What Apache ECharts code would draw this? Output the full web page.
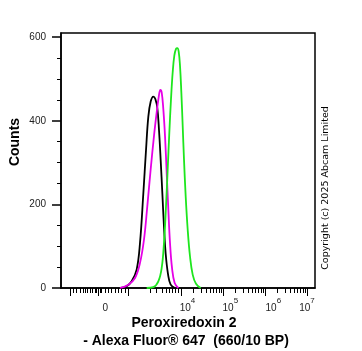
<!DOCTYPE html>
<html lang="en">
<head>
  <meta charset="UTF-8">
  <title>Peroxiredoxin 2 flow histogram</title>
  <script src="https://cdn.jsdelivr.net/npm/echarts@6/dist/echarts.min.js"></script>
  <style>
    html, body { margin: 0; padding: 0; background: #fff; }
    #chart { width: 362px; height: 351px; }
  </style>
</head>
<body>
  <div id="chart"></div>
  <script>
    // x is in display position: 10^k sits at k (biexponential axis, linear near 0)
    var blackX = [2.548, 2.706, 2.825, 2.944, 3.024, 3.103, 3.167, 3.222, 3.278, 3.341, 3.389, 3.437, 3.476, 3.516, 3.556, 3.595, 3.635, 3.690, 3.754, 3.857];
    var blackY = [0, 4, 16, 44, 108, 226, 330, 410, 446, 458, 452, 430, 378, 306, 226, 146, 82, 34, 8, 0];

    var magentaX = [2.548, 2.746, 2.905, 3.024, 3.119, 3.198, 3.278, 3.357, 3.421, 3.468, 3.508, 3.540, 3.579, 3.619, 3.659, 3.698, 3.738, 3.786, 3.849, 3.937];
    var magentaY = [0, 8, 24, 60, 116, 196, 284, 364, 420, 456, 474, 468, 428, 364, 276, 188, 108, 48, 12, 0];

    var greenX = [3.183, 3.341, 3.460, 3.540, 3.595, 3.643, 3.683, 3.722, 3.762, 3.802, 3.841, 3.881, 3.913, 3.944, 3.976, 4.008, 4.040, 4.071, 4.111, 4.159, 4.214, 4.278, 4.357, 4.468];
    var greenY = [0, 2, 16, 48, 108, 196, 284, 372, 452, 516, 556, 572, 574, 566, 532, 468, 388, 308, 220, 140, 76, 32, 10, 0];

    // axis ticks and labels
    var xMajorTicks = [1.357, 2.036, 2.75, 4, 5, 6, 7];
    var xLowMinorTicks = [1.436, 1.517, 1.595, 1.674, 1.731, 1.779, 1.833, 1.888, 1.952, 1.988, 2.071, 2.107,
      2.190, 2.269, 2.350, 2.429, 2.507, 2.588, 2.667,
      3.262, 3.417, 3.548, 3.643, 3.726, 3.798, 3.864, 3.924];
    var xLabelPos = [2.198, 4.155, 5.174, 6.198, 7.0];
    var xLabelText = ['{b|0}', '{b|10}{s|4}', '{b|10}{s|5}', '{b|10}{s|6}', '{b|10}{s|7}'];
    var yMajorTicks = [0, 200, 400, 600];
    var yMinorTicks = [50, 100, 150, 250, 300, 350, 450, 500, 550];

    var xMinorTicks = xLowMinorTicks.slice();
    for (var dec = 4; dec < 7; dec++) {
      for (var k = 2; k <= 9; k++) {
        xMinorTicks.push(dec + Math.log10(k));
      }
    }

    function pairs(xs, ys) {
      var out = [];
      for (var i = 0; i < xs.length; i++) out.push([xs[i], ys[i]]);
      return out;
    }

    var xMin = 1.143, xMax = 7.19;
    var yMin = 0, yMax = 610;

    var chart = echarts.init(document.getElementById('chart'));
    var option = {
      animation: false,
      grid: {
        left: 61, right: 47, top: 33, bottom: 63,
        show: true,
        borderColor: '#000',
        borderWidth: 1.5
      },
      xAxis: [{
        type: 'value', min: xMin, max: xMax,
        axisLine: { show: true, lineStyle: { color: '#000', width: 1.5 } },
        axisTick: { show: true, customValues: xMajorTicks, length: 8, lineStyle: { color: '#000', width: 1 } },
        axisLabel: {
          show: true,
          customValues: xLabelPos,
          margin: 9,
          color: '#222',
          fontFamily: 'Liberation Sans',
          formatter: function (v) {
            for (var i = 0; i < xLabelPos.length; i++) {
              if (Math.abs(xLabelPos[i] - v) < 1e-6) return xLabelText[i];
            }
            return '';
          },
          rich: {
            b: { fontSize: 10, lineHeight: 16, verticalAlign: 'bottom', color: '#222', fontFamily: 'Liberation Sans' },
            s: { fontSize: 8, lineHeight: 8, verticalAlign: 'top', color: '#222', fontFamily: 'Liberation Sans' }
          }
        },
        splitLine: { show: false }
      }, {
        type: 'value', min: xMin, max: xMax, position: 'bottom',
        axisLine: { show: false },
        axisTick: { show: true, customValues: xMinorTicks, length: 5, lineStyle: { color: '#000', width: 1 } },
        axisLabel: { show: false },
        splitLine: { show: false }
      }],
      yAxis: [{
        type: 'value', min: yMin, max: yMax,
        axisLine: { show: true, lineStyle: { color: '#000', width: 1.5 } },
        axisTick: { show: true, customValues: yMajorTicks, length: 9, lineStyle: { color: '#000', width: 1.5 } },
        axisLabel: {
          customValues: yMajorTicks,
          margin: 15,
          fontSize: 10,
          color: '#222',
          fontFamily: 'Liberation Sans'
        },
        splitLine: { show: false }
      }, {
        type: 'value', min: yMin, max: yMax, position: 'left',
        axisLine: { show: false },
        axisTick: { show: true, customValues: yMinorTicks, length: 4, lineStyle: { color: '#000', width: 1 } },
        axisLabel: { show: false },
        splitLine: { show: false }
      }],
      series: [{
        name: 'black', type: 'line', smooth: 0.4, symbol: 'none',
        lineStyle: { color: '#000', width: 1.8 },
        data: pairs(blackX, blackY)
      }, {
        name: 'magenta', type: 'line', smooth: 0.4, symbol: 'none',
        lineStyle: { color: '#e600e6', width: 1.8 },
        data: pairs(magentaX, magentaY)
      }, {
        name: 'green', type: 'line', smooth: 0.4, symbol: 'none',
        lineStyle: { color: '#1ee61e', width: 1.8 },
        data: pairs(greenX, greenY)
      }],
      graphic: [{
        type: 'text', x: 15, y: 142, rotation: Math.PI / 2,
        style: { text: 'Counts', font: 'bold 14px "Liberation Sans"', fill: '#000', align: 'center', verticalAlign: 'middle' }
      }, {
        type: 'text', x: 184, y: 323,
        style: { text: 'Peroxiredoxin 2', font: 'bold 14px "Liberation Sans"', fill: '#000', align: 'center', verticalAlign: 'middle' }
      }, {
        type: 'text', x: 186, y: 341,
        style: { text: '- Alexa Fluor® 647  (660/10 BP)', font: 'bold 14px "Liberation Sans"', fill: '#000', align: 'center', verticalAlign: 'middle' }
      }, {
        type: 'text', x: 326, y: 188, rotation: Math.PI / 2,
        style: { text: 'Copyright (c) 2025 Abcam Limited', font: '9.5px "DejaVu Sans"', fill: '#000', align: 'center', verticalAlign: 'middle' }
      }]
    };
    chart.setOption(option);
  </script>
</body>
</html>
